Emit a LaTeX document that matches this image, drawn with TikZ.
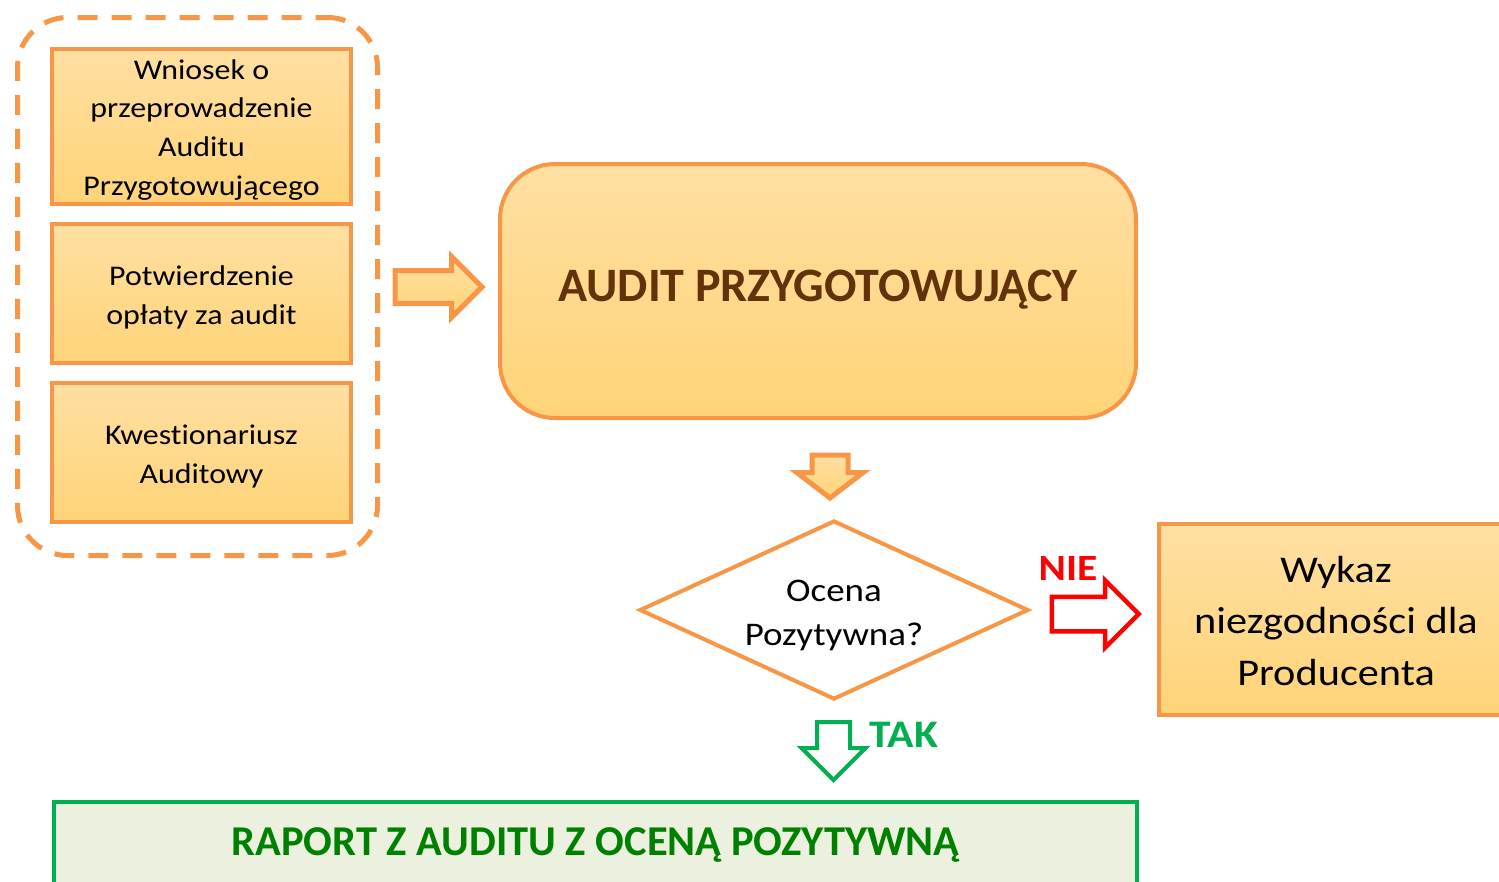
\documentclass[tikz,border=0pt]{standalone}
\usepackage{fontspec}
\setmainfont{Carlito}[Ligatures=NoCommon]
\newfontfamily\widefont{Carlito}[Ligatures=NoCommon, FakeStretch=1.12]
\usetikzlibrary{shapes.geometric,shapes.arrows}
\definecolor{orangeline}{RGB}{247,150,70}
\definecolor{orangetop}{RGB}{255,223,162}
\definecolor{orangebot}{RGB}{255,212,120}
\definecolor{auditbrown}{RGB}{99,50,10}
\definecolor{greenline}{RGB}{0,176,80}
\definecolor{greenfill}{RGB}{235,241,222}
\definecolor{greentext}{RGB}{0,128,0}
\definecolor{nored}{RGB}{255,0,0}
% tekst obnizony w wezle
\newcommand{\lowerby}[2]{\raisebox{-#1}[\height][\depth]{\begin{tabular}{@{}c@{}}#2\end{tabular}}}
\tikzset{
  docbox/.style={draw=orangeline, line width=4pt, top color=orangetop, bottom color=orangebot,
    align=center, inner sep=0pt, font=\widefont\fontsize{28.5}{38.7}\selectfont},
  blockarr/.style={single arrow, inner sep=0pt, anchor=tail, line width=5pt},
}
\begin{document}
\begin{tikzpicture}[x=1pt, y=-1pt, line join=miter]
\useasboundingbox (0,0) rectangle (1499,881);
% grupa dokumentow
\node[draw=orangeline, line width=5pt, dash pattern=on 20pt off 14pt, dash phase=8pt, rounded corners=50pt,
  minimum width=360pt, minimum height=538pt] (inputs) at (197.5,286.5) {};
\node[docbox, minimum width=299pt, minimum height=155pt] (wniosek) at (201.5,126.5)
  {\lowerby{3pt}{Wniosek o\\przeprowadzenie\\Auditu\\Przygotowującego}};
\node[docbox, minimum width=299pt, minimum height=139pt] (oplata) at (201.5,293.5)
  {\lowerby{3.5pt}{Potwierdzenie\\opłaty za audit}};
\node[docbox, minimum width=299pt, minimum height=139pt] (kwest) at (201.5,452.5)
  {\lowerby{3.5pt}{Kwestionariusz\\Auditowy}};
% audit
\node[docbox, rounded corners=55pt, minimum width=636pt, minimum height=254pt,
  font=\fontsize{48}{56}\selectfont\bfseries, text=auditbrown] (audit) at (818,291)
  {\lowerby{-1pt}{AUDIT PRZYGOTOWUJĄCY}};
\node[blockarr, draw=orangeline, top color=orangetop, bottom color=orangebot,
  inner ysep=14pt, single arrow head extend=14pt, minimum height=87pt] (arr1) at (392.5,287) {};
\node[blockarr, draw=orangeline, top color=orangetop, bottom color=orangebot, rotate=-90,
  inner ysep=15.5pt, single arrow head extend=15pt, single arrow tip angle=105,
  minimum height=43pt] (arr2) at (830,452.5) {};
% decyzja
\node[diamond, draw=orangeline, line width=4pt, fill=white, inner sep=0pt, aspect=2.17,
  minimum width=389pt, minimum height=179pt, align=center,
  font=\widefont\fontsize{33}{44}\selectfont] (ocena) at (834,610)
  {\lowerby{5pt}{Ocena\\Pozytywna?}};
\node[blockarr, draw=nored, fill=white, line width=4.5pt,
  inner ysep=15pt, single arrow head extend=16.5pt, minimum height=87pt] (nie) at (1049.5,614) {};
\node[text=nored, font=\widefont\fontsize{37}{40}\selectfont\bfseries] (nielab) at (1068,568) {NIE};
\node[docbox, minimum width=354pt, minimum height=191pt, font=\widefont\fontsize{37.8}{51.5}\selectfont]
  (wykaz) at (1336,619.5) {\lowerby{4pt}{Wykaz\\niezgodności dla\\Producenta}};
\node[blockarr, draw=greenline, fill=white, rotate=-90, line width=4pt,
  inner ysep=14.5pt, single arrow head extend=15.5pt, minimum height=58pt] (tak) at (833.5,720) {};
\node[text=greenline, font=\widefont\fontsize{39}{40}\selectfont\bfseries] (taklab) at (904,735) {TAK};
% raport
\node[draw=greenline, fill=greenfill, line width=4pt, minimum width=1083pt, minimum height=82pt,
  text=greentext, font=\fontsize{42.5}{48}\selectfont\bfseries] (raport) at (595.5,843)
  {\lowerby{3pt}{RAPORT Z AUDITU Z OCENĄ POZYTYWNĄ}};
\end{tikzpicture}
\end{document}
